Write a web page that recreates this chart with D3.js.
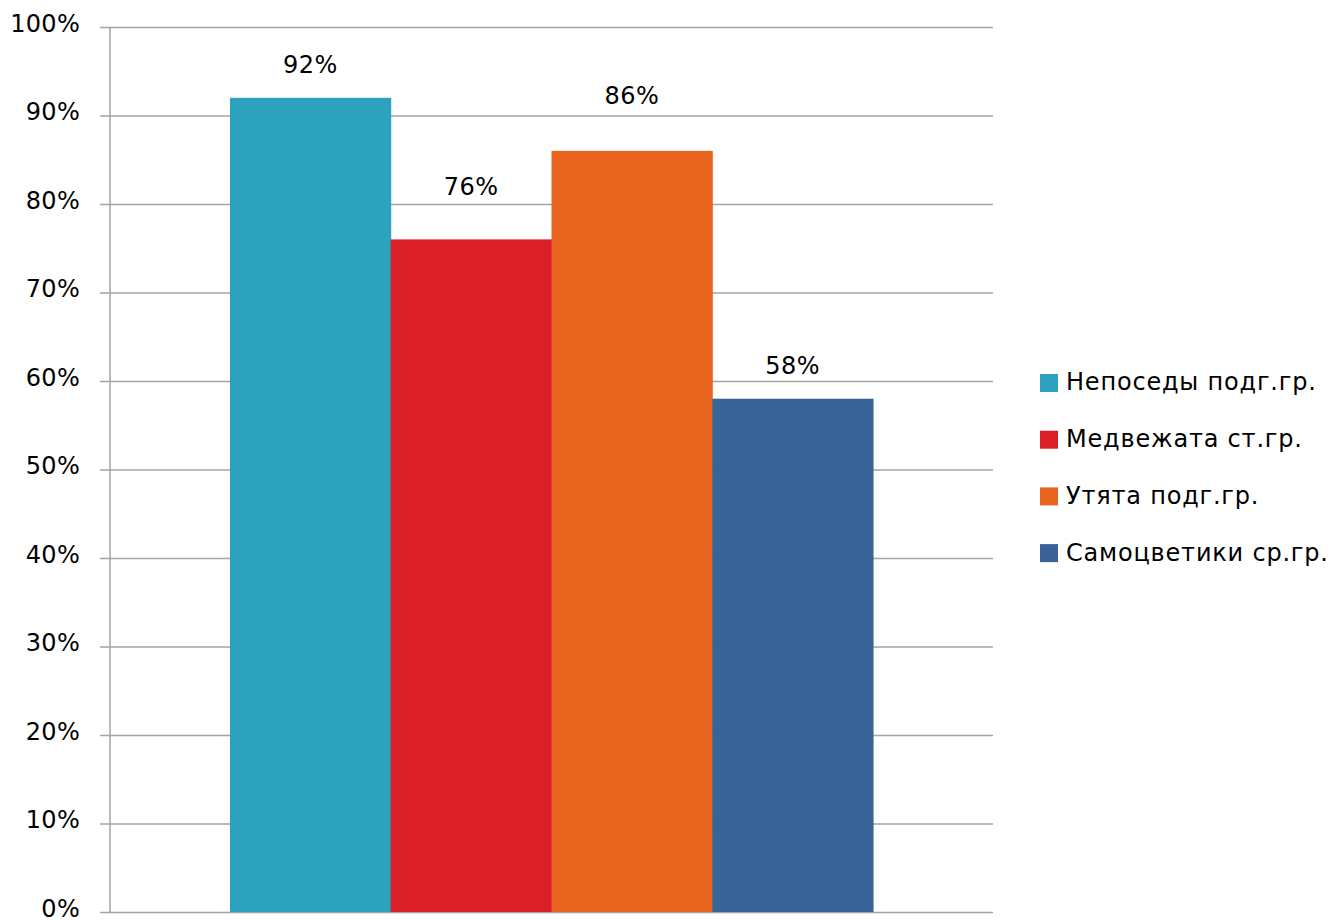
<!DOCTYPE html>
<html>
<head>
<meta charset="utf-8">
<script src="https://cdn.jsdelivr.net/npm/d3@7"></script>
<style>
  html, body { margin: 0; padding: 0; background: #fff; }
  svg { display: block; }
  text { font-family: "DejaVu Sans", sans-serif; fill: #000; }
</style>
</head>
<body>
<svg id="chart" width="1333" height="922"></svg>
<script>
const categories = [""];
const seriesNames = ["Непоседы подг.гр.", "Медвежата ст.гр.", "Утята подг.гр.", "Самоцветики ср.гр."];
const seriesValues = [0.92, 0.76, 0.86, 0.58];
const valueLabels = ["92%", "76%", "86%", "58%"];
const tickValues = [0, 0.1, 0.2, 0.3, 0.4, 0.5, 0.6, 0.7, 0.8, 0.9, 1.0];
const tickLabels = ["0%", "10%", "20%", "30%", "40%", "50%", "60%", "70%", "80%", "90%", "100%"];
const colors = ["#2ca2bf", "#da1f29", "#e8641e", "#3a6499"];
// label heights (in value units, for Excel-like label placement)
const labelLevels = [0.957, 0.82, 0.923, 0.617];

const svg = d3.select("#chart");
const plot = { left: 110, right: 993, top: 27, bottom: 912 };

const y = d3.scaleLinear().domain([0, 1]).range([plot.bottom, plot.top]);
const x0 = d3.scaleBand().domain(categories).range([plot.left, plot.right])
  .paddingInner(0).paddingOuter(0.1865);
const x1 = d3.scaleBand().domain(seriesNames).range([0, x0.bandwidth()]).padding(0);

const gridColor = "#a3a3a3";

// gridlines with tick marks extending left
const yAxis = d3.axisLeft(y).tickValues(tickValues)
  .tickFormat((d, i) => tickLabels[i])
  .tickSize(-(plot.right - plot.left)).tickPadding(20);
const gy = svg.append("g").attr("transform", `translate(${plot.left},0)`).call(yAxis);
gy.select(".domain").remove();
gy.selectAll(".tick line").attr("stroke", gridColor).attr("stroke-width", 1.5)
  .attr("x1", -10);
gy.selectAll(".tick text").attr("font-size", 24).attr("font-family", "DejaVu Sans, sans-serif")
  .attr("fill", "#000").attr("x", -30).attr("y", -3.5).attr("letter-spacing", 0.3);

// bars
const g = svg.append("g").attr("transform", `translate(${x0(categories[0])},0)`);
g.selectAll("rect").data(seriesValues).join("rect")
  .attr("x", (d, i) => x1(seriesNames[i]))
  .attr("width", x1.bandwidth() + 0.5)
  .attr("y", d => y(d))
  .attr("height", d => y(0) - y(d))
  .attr("fill", (d, i) => colors[i]);

g.selectAll("text.val").data(seriesValues).join("text")
  .attr("class", "val")
  .attr("x", (d, i) => x1(seriesNames[i]) + x1.bandwidth() / 2)
  .attr("y", (d, i) => y(labelLevels[i]))
  .attr("dy", "0.35em")
  .attr("text-anchor", "middle")
  .attr("font-size", 24)
  .attr("letter-spacing", 0.5)
  .text((d, i) => valueLabels[i]);

// vertical axis line
svg.append("line")
  .attr("x1", plot.left).attr("x2", plot.left)
  .attr("y1", y(1)).attr("y2", y(0))
  .attr("stroke", gridColor).attr("stroke-width", 1.5);

// legend
const legend = svg.append("g").attr("transform", "translate(1040,382)");
const items = legend.selectAll("g").data(seriesNames).join("g")
  .attr("transform", (d, i) => `translate(0,${i * 56.7})`);
items.append("rect").attr("x", 0).attr("y", -8).attr("width", 18).attr("height", 18)
  .attr("fill", (d, i) => colors[i]);
items.append("text").attr("x", 26).attr("y", 0).attr("dy", "0.35em")
  .attr("font-size", 24).attr("letter-spacing", 0.8).text(d => d);
</script>
</body>
</html>
